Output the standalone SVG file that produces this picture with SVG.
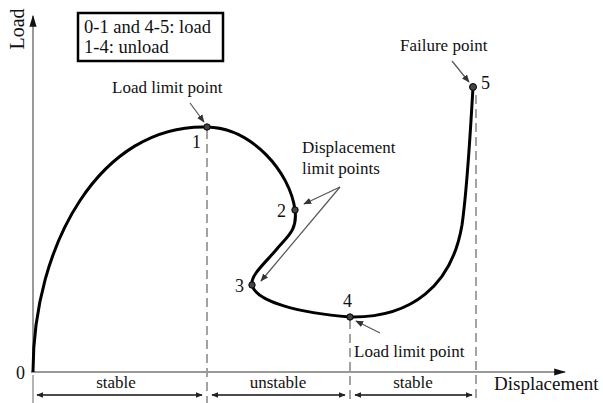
<svg xmlns="http://www.w3.org/2000/svg" width="603" height="403" viewBox="0 0 603 403">
<defs>
<marker id="ah" viewBox="0 0 10 10" refX="9" refY="5" markerWidth="7" markerHeight="7" orient="auto-start-reverse" markerUnits="userSpaceOnUse"><path d="M0,1 L10,5 L0,9 z" fill="#222"/></marker>
<marker id="axh" viewBox="0 0 10 10" refX="9" refY="5" markerWidth="12" markerHeight="12" orient="auto" markerUnits="userSpaceOnUse"><path d="M0,2 L10,5 L0,8 z" fill="#111"/></marker>
<marker id="sh" viewBox="0 0 10 10" refX="9" refY="5" markerWidth="8" markerHeight="8" orient="auto" markerUnits="userSpaceOnUse"><path d="M0,1 L10,5 L0,9 z" fill="#333"/></marker>
</defs>
<style>
text{font-family:"Liberation Serif","Times New Roman",serif;fill:#111}
.lbl{font-size:17px}
.num{font-size:18px}
.axis{stroke:#999;stroke-width:2;fill:none}
.dash{stroke:#999;stroke-width:1.8;stroke-dasharray:9,5;fill:none}
.tick{stroke:#999;stroke-width:1.5}
.span{stroke:#111;stroke-width:1.5}
.ann{stroke:#555;stroke-width:1.2}
.curve{stroke:#000;stroke-width:3;fill:none}
.pt{fill:#444;stroke:#000;stroke-width:1}
</style>
<g id="axes">
<line class="axis" x1="33" y1="372" x2="33" y2="16" marker-end="url(#axh)"/>
<line class="axis" x1="31" y1="372" x2="565" y2="372" marker-end="url(#axh)"/>
<text class="num" x="25" y="379" text-anchor="end">0</text>
<text x="0" y="0" font-size="20" transform="translate(24,29) rotate(-90)" text-anchor="middle">Load</text>
<text x="494" y="390" font-size="19">Displacement</text>
</g>
<g id="legend">
<rect x="78" y="13" width="145" height="48" fill="#fff" stroke="#000" stroke-width="2.5"/>
<text x="84" y="33" font-size="18.5">0-1 and 4-5: load</text>
<text x="84" y="53" font-size="18.5">1-4: unload</text>
</g>
<g id="guides">
<line class="dash" x1="207" y1="130" x2="207" y2="403"/>
<line class="dash" x1="350" y1="320" x2="350" y2="403"/>
<line class="dash" x1="476" y1="95" x2="476" y2="403"/>
<line class="tick" x1="33" y1="375" x2="33" y2="403"/>
</g>
<g id="curve">
<path class="curve" d="M33,372 C33,245 100,124 207,127 C252,128 290,172 295,210 C298,232 285,238 276,250 C264,264 250,276 252,285 C256,302 300,313 350,317 C412,318 452,285 462,225 C467,190 470,140 473,87"/>
</g>
<g id="p1"><circle class="pt" cx="207" cy="127" r="3.2"/><text class="num" x="192" y="148">1</text></g>
<g id="p2"><circle class="pt" cx="295" cy="210" r="3.2"/><text class="num" x="277" y="217">2</text></g>
<g id="p3"><circle class="pt" cx="252" cy="285" r="3.2"/><text class="num" x="235" y="292">3</text></g>
<g id="p4"><circle class="pt" cx="350" cy="317" r="3.2"/><text class="num" x="343" y="307">4</text></g>
<g id="p5"><circle class="pt" cx="473" cy="87" r="3.5"/><text class="num" x="481" y="89">5</text></g>
<g id="annotations">
<text class="lbl" x="112" y="93">Load limit point</text>
<text class="lbl" x="302" y="153">Displacement</text>
<text class="lbl" x="302" y="174">limit points</text>
<text class="lbl" x="400" y="51">Failure point</text>
<text class="lbl" x="354" y="357">Load limit point</text>
<text class="lbl" x="116" y="388" text-anchor="middle" font-size="18">stable</text>
<text class="lbl" x="278" y="388" text-anchor="middle" font-size="18">unstable</text>
<text class="lbl" x="413" y="388" text-anchor="middle" font-size="18">stable</text>
</g>
<g id="connectors">
<line class="ann" x1="190" y1="103" x2="204" y2="122" marker-end="url(#sh)"/>
<line class="ann" x1="340" y1="187" x2="304" y2="204" marker-end="url(#sh)"/>
<line class="ann" x1="340" y1="187" x2="261" y2="281" marker-end="url(#sh)"/>
<line class="ann" x1="452" y1="61" x2="469" y2="82" marker-end="url(#sh)"/>
<line class="ann" x1="380" y1="333" x2="356" y2="321" marker-end="url(#sh)"/>
<line class="span" x1="37" y1="395" x2="202" y2="395" marker-start="url(#ah)" marker-end="url(#ah)"/>
<line class="span" x1="212" y1="395" x2="345" y2="395" marker-start="url(#ah)" marker-end="url(#ah)"/>
<line class="span" x1="355" y1="395" x2="472" y2="395" marker-start="url(#ah)" marker-end="url(#ah)"/>
</g>
</svg>
